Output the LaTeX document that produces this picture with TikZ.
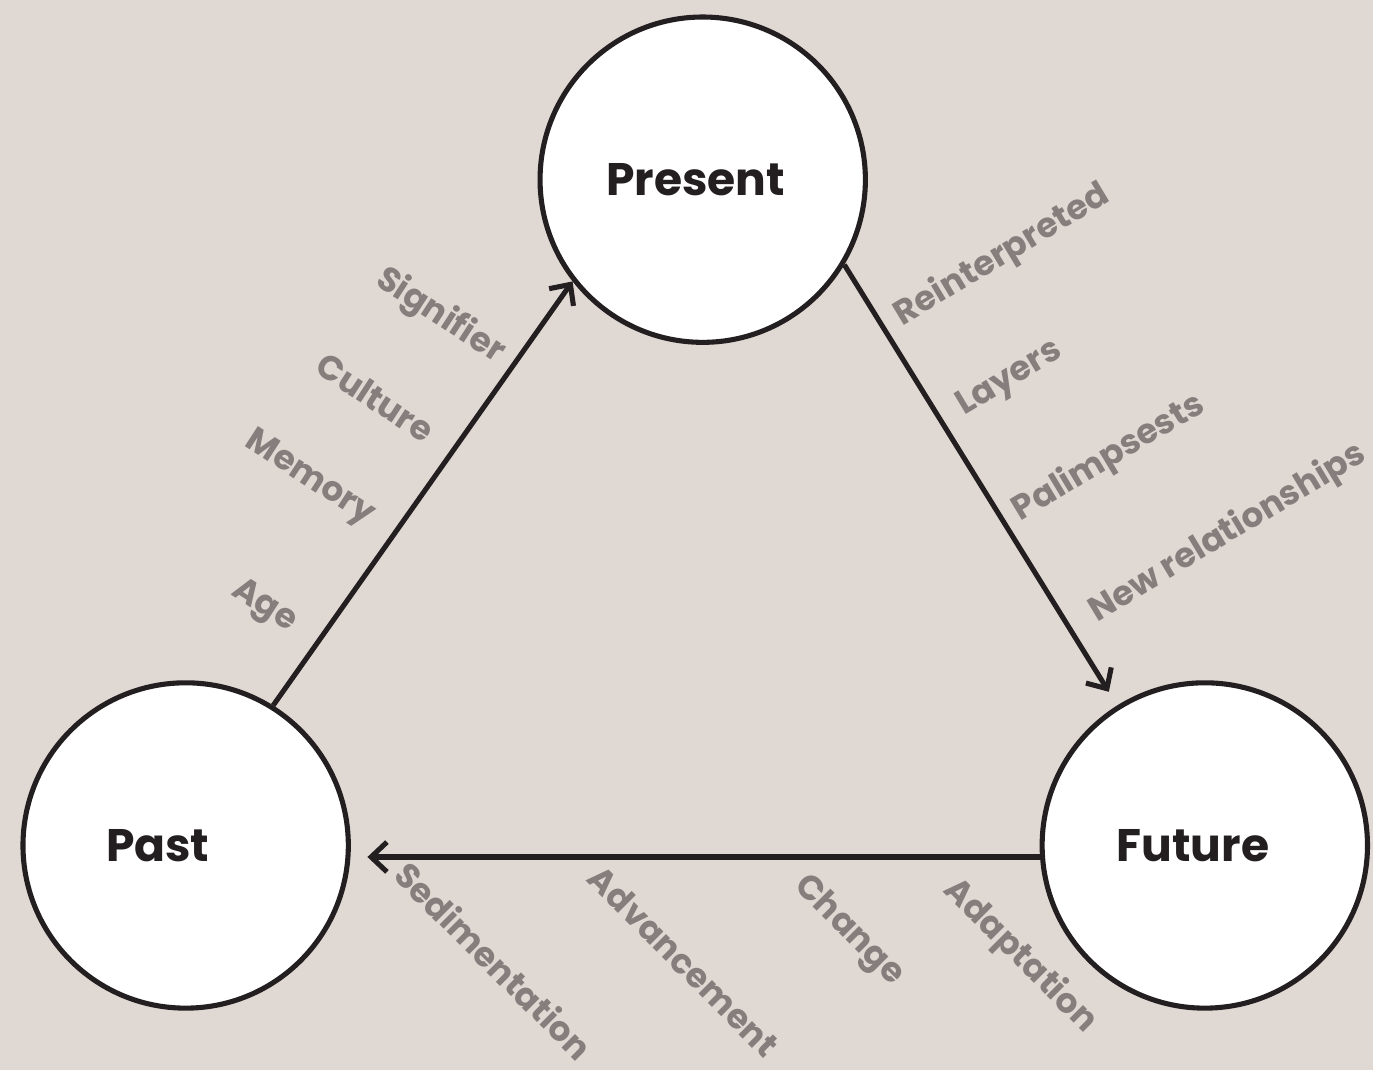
\documentclass[tikz,border=0pt]{standalone}
\usepackage{fontspec}
\setmainfont{Poppins}
\usetikzlibrary{arrows.meta}
\definecolor{bgtone}{RGB}{224,216,211}
\definecolor{wordgrey}{RGB}{134,126,124}
\definecolor{inkblack}{RGB}{35,31,32}
\tikzset{
  era/.style={circle,draw=inkblack,fill=white,line width=2.9pt,minimum size=6.52cm,inner sep=0pt},
  eraname/.style={text=inkblack,font=\fontsize{26}{30}\selectfont\bfseries},
  word/.style={text=wordgrey,font=\fontsize{19.5}{23}\selectfont\bfseries,inner sep=1pt},
  flow/.style={draw=inkblack,line width=2.9pt,->,>={Straight Barb[length=9pt,width=17pt]}}
}
\begin{document}
\begin{tikzpicture}[x=0.02cm,y=-0.02cm]
    \fill[bgtone] (0,0) rectangle (1375,1072);
    % the three circles
    \node[era] (present) at (704,180) {};
    \node[era] (past) at (186,847) {};
    \node[era] (future) at (1207,847) {};
    \node[eraname] (presentname) at (697,180) {Present};
    \node[eraname] (pastname) at (158,847) {Past};
    \node[eraname] (futurename) at (1195,847) {Future};
    % arrows
    \draw[flow] (past.58) to (present.218);
    \draw[flow,shorten >=0.32cm] (present.-31) to (future.122);
    \draw[flow,shorten >=0.34cm] (future.184) to (past.-4);
    % words along the arrows
    \foreach \w/\x/\y [count=\i] in {Signifier/441/317,Culture/376/398,Memory/310/480,Age/264/608}
    {
      \node[word,rotate=-33] (l\i) at (\x,\y) {\w};
    }
    \foreach \w/\x/\y [count=\i] in {Reinterpreted/1004/256,Layers/1012/380,Palimpsests/1111/459,New relationships/1230/534}
    {
      \node[word,rotate=31] (r\i) at (\x,\y) {\w};
    }
    \foreach \w/\x/\y [count=\i] in {Sedimentation/495/962,Advancement/685/963,Change/850/933,Adaptation/1022/958}
    {
      \node[word,rotate=-45] (b\i) at (\x,\y) {\w};
    }
  \end{tikzpicture}
\end{document}
